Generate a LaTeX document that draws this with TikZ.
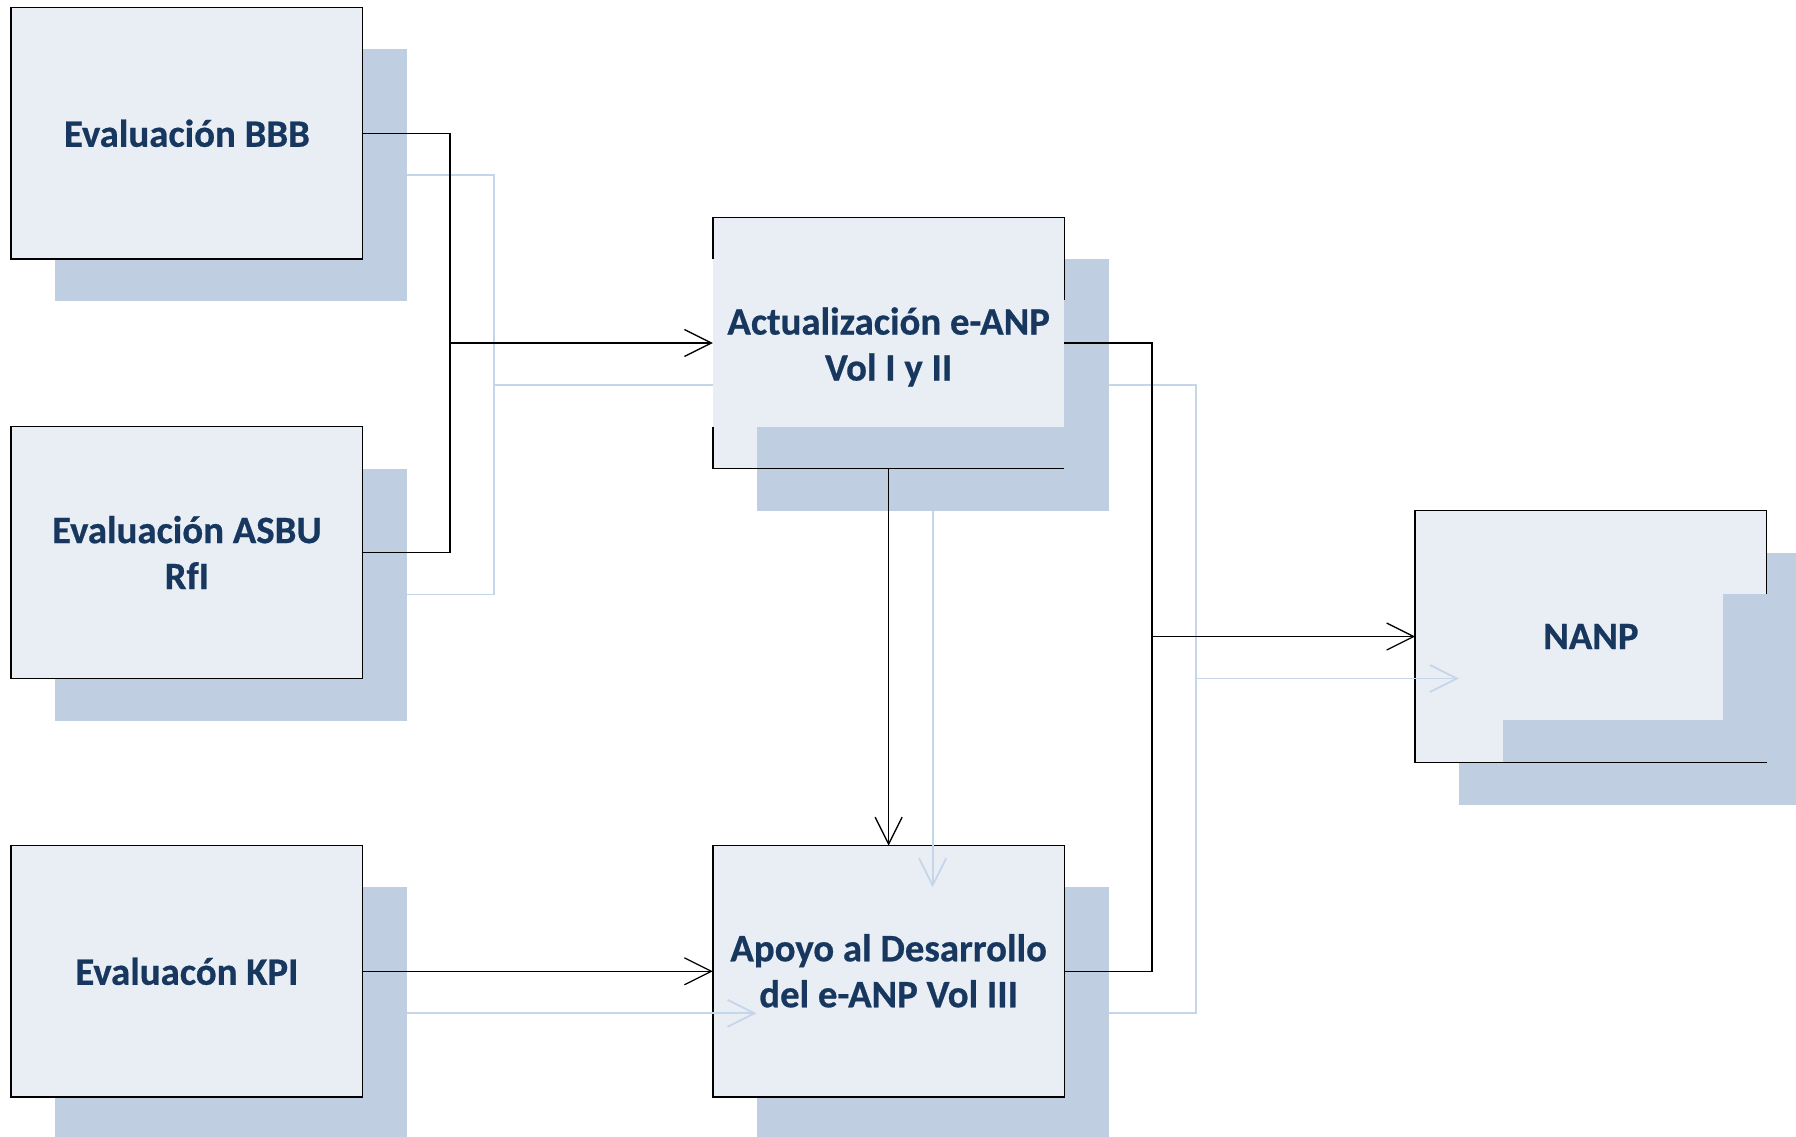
\documentclass[tikz,border=0pt]{standalone}
\usepackage{fontspec}
\setmainfont{Carlito}[BoldFeatures={FakeBold=0.6}]
\usetikzlibrary{arrows.meta,calc}
\definecolor{boxc}{RGB}{233,238,245}
\definecolor{shc}{RGB}{191,207,225}
\definecolor{lightc}{RGB}{197,214,234}
\definecolor{txtc}{RGB}{23,55,94}
\tikzset{
 boxfill/.style={fill=boxc, minimum width=351.5pt, minimum height=251.5pt, inner sep=0pt, outer sep=0pt},
 boxnode/.style={boxfill, draw=black, line width=1.4pt},
 shbox/.style={fill=shc, minimum width=352pt, minimum height=252pt, inner sep=0pt, outer sep=0pt},
 lbl/.style={text=txtc, font=\fontsize{38.8}{46}\selectfont\bfseries, align=center, inner sep=0pt},
 conn/.style={draw=black, line width=1.3pt},
 arr/.style={-{Straight Barb[length=27pt,width=27pt]}},
 lconn/.style={draw=lightc, line width=1.8pt},
 border/.style={draw=black, line width=1.4pt},
}
\begin{document}
\begin{tikzpicture}[x=1pt,y=-1pt]
\useasboundingbox (0,0) rectangle (1796,1137);
\clip (0,0) rectangle (1796,1137);
% shadows
\node[shbox] (bbbsh) at (230.9,175.3) {};
\node[shbox] (asbush) at (230.9,594.5) {};
\node[shbox] (kpish) at (230.9,1013.3) {};
\node[shbox] (actsh) at (932.6,385) {};
\node[shbox] (apoyosh) at (932.6,1013.3) {};
\node[shbox] (nanpsh) at (1634.9,678.5) {};
% boxes
\node[boxnode] (bbb) at (186.9,133.3) {};
\node[boxnode] (asbu) at (186.9,552.5) {};
\node[boxnode] (kpi) at (186.9,971.3) {};
\node[boxnode] (apoyo) at (888.6,971.3) {};
\node[boxfill] (act) at (888.6,343) {};
\node[boxfill] (nanp) at (1590.9,636.5) {};
% overlay on Actualizacion
\fill[shc] (actsh.north west) rectangle (actsh.south east);
\fill[boxc] (act.north west) rectangle ($(act.south east)+(0,-42)$);
\draw[border] ($(act.north west)+(0,42)$) -- (act.north west) -- (act.north east) -- ($(act.north east)+(0,83)$);
\draw[border] ($(act.south west)+(0,-42)$) -- (act.south west) -- (act.south east);
% overlay on NANP
\fill[shc] ($(nanp.north west)+(87.7,83.3)$) rectangle ($(nanp.south east)+(40,0)$);
\fill[boxc] (nanp.north west) rectangle ($(nanp.south east)+(-44,-42.3)$);
\draw[border] ($(nanp.north east)+(0,83.3)$) -- (nanp.north east) -- (nanp.north west) -- (nanp.south west) -- (nanp.south east);
% light connectors
\coordinate (ljl) at (494,385);
\coordinate (ljr) at (1196,678.5);
\draw[lconn] (bbbsh.east) -| (ljl);
\draw[lconn] (asbush.east) -| (ljl);
\draw[lconn] (ljl) -- (act.west |- ljl);
\draw[lconn,arr] (kpish.east) -- (apoyosh.west);
\draw[lconn,arr] (actsh.south) -- (apoyosh.north);
\draw[lconn] (actsh.east) -| (ljr);
\draw[lconn] (apoyosh.east) -| (ljr);
\draw[lconn,arr] (ljr) -- (nanpsh.west);
% black connectors
\coordinate (jl) at (450,343);
\coordinate (jr) at (1152,636.5);
\draw[conn] (bbb.east) -| (jl);
\draw[conn] (asbu.east) -| (jl);
\draw[conn,arr] (jl) -- (act.west);
\draw[conn,arr] (kpi.east) -- (apoyo.west);
\draw[conn,arr] (act.south) -- (apoyo.north);
\draw[conn] (act.east) -| (jr);
\draw[conn] (apoyo.east) -| (jr);
\draw[conn,arr] (jr) -- (nanp.west);
% labels
\node[lbl] (tbbb) at (bbb.center) {Evaluación BBB};
\node[lbl] (tasbu) at (asbu.center) {Evaluación ASBU\\RfI};
\node[lbl] (tkpi) at (kpi.center) {Evaluacón KPI};
\node[lbl,yshift=-4pt] (tact) at (act.center) {Actualización e-ANP\\Vol I y II};
\node[lbl,yshift=0.5pt] (tapoyo) at (apoyo.center) {Apoyo al Desarrollo\\del e-ANP Vol III};
\node[lbl] (tnanp) at (nanp.center) {NANP};
\end{tikzpicture}
\end{document}
